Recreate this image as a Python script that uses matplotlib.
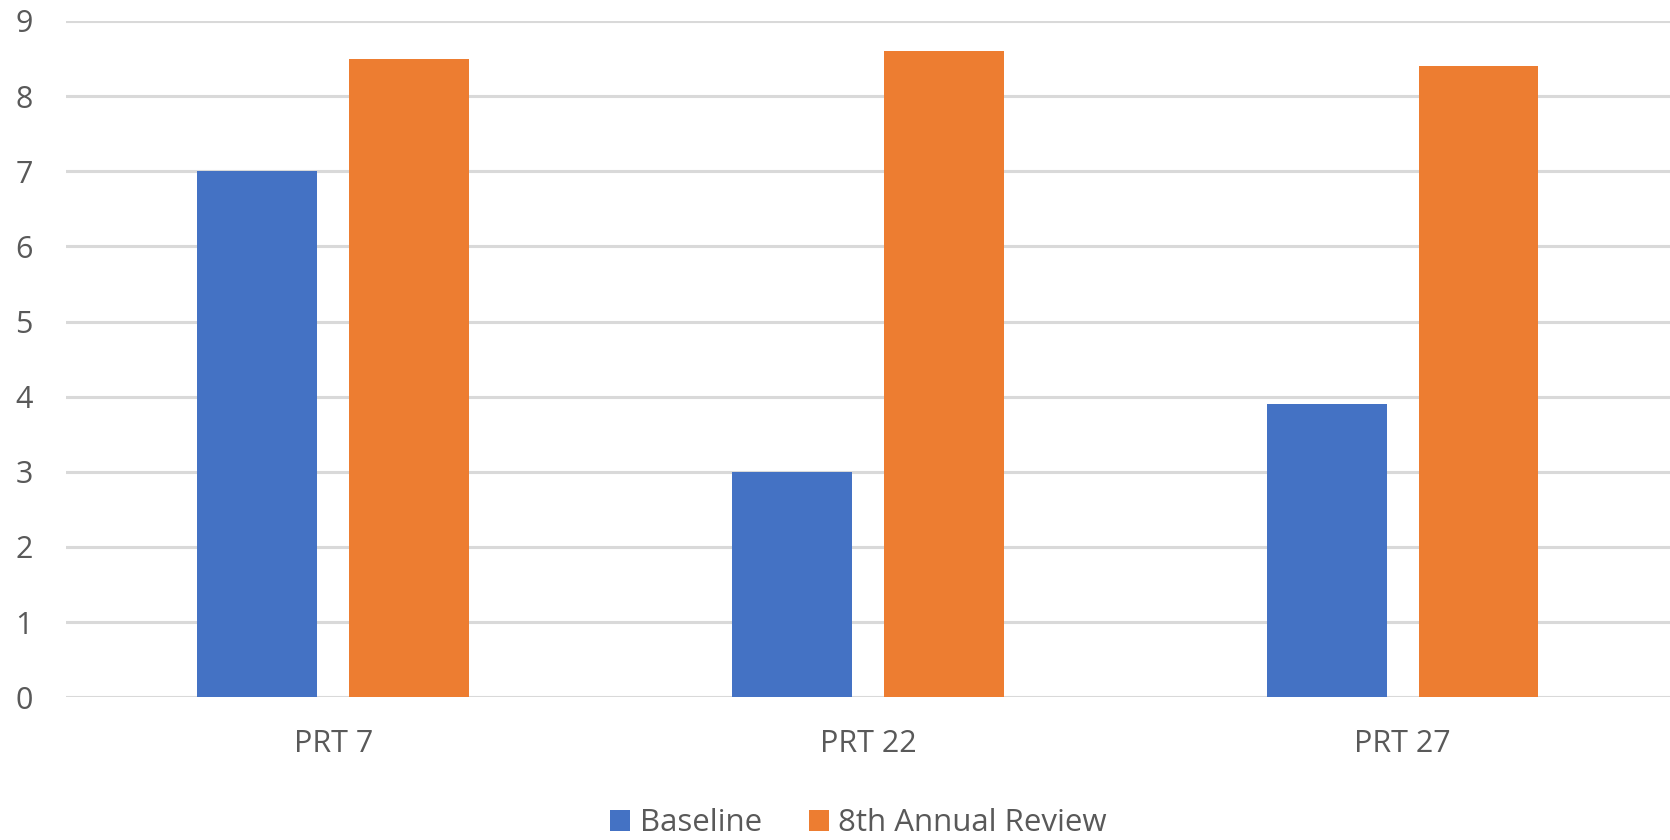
import matplotlib.pyplot as plt
import numpy as np

categories = ["PRT 7", "PRT 22", "PRT 27"]
baseline = [7.0, 3.0, 3.9]
annual_review = [8.5, 8.6, 8.4]
series_names = ["Baseline", "8th Annual Review"]
colors = ["#4472c4", "#ed7d31"]

plt.rcParams['font.family'] = ['Open Sans', 'DejaVu Sans']

fig = plt.figure(figsize=(16.7, 8.4), dpi=100)
ax = fig.add_axes([0.0395, 0.170, 0.9605, 0.805])

x = np.arange(len(categories))
w = 0.224
off = 0.142
ax.bar(x - off, baseline, w, color=colors[0], label=series_names[0], zorder=3)
ax.bar(x + off, annual_review, w, color=colors[1], label=series_names[1], zorder=3)

ax.set_xlim(-0.5, len(categories) - 0.5)
ax.set_ylim(0, 9)
ax.set_yticks(range(0, 10))
ax.yaxis.grid(True, color="#d9d9d9", linewidth=2.2, zorder=0)
ax.set_axisbelow(True)
for s in ax.spines.values():
    s.set_visible(False)

ax.set_xticks(x)
ax.set_xticklabels(categories)
ax.tick_params(axis="both", length=0, labelsize=22, labelcolor="#595959")
ax.tick_params(axis="y", pad=24)
ax.tick_params(axis="x", pad=23)

fig.legend(loc="center", bbox_to_anchor=(0.514, 0.02), ncol=2, frameon=False,
           fontsize=22.5, labelcolor="#595959", handlelength=0.65, handleheight=0.65,
           handletextpad=0.3, columnspacing=1.5)

fig.savefig("out.png", dpi=100, facecolor="white")
